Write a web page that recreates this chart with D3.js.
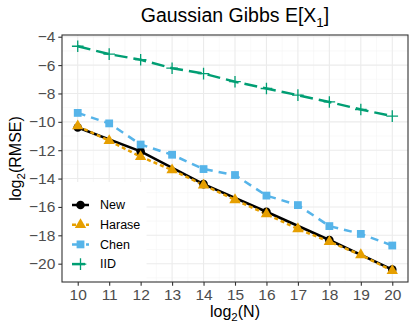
<!DOCTYPE html>
<html>
<head>
<meta charset="utf-8">
<script src="https://cdn.jsdelivr.net/npm/d3@7"></script>
<style>
  body { margin: 0; background: #fff; }
  svg text { font-family: "Liberation Sans", Arial, Helvetica, sans-serif; }
</style>
</head>
<body>
<div id="chart"></div>
<script>
// log2(N) values and log2(RMSE) per method
const xNew = [10, 12, 14, 16, 18, 20];
const yNew = [-10.4, -12.08, -14.39, -16.34, -18.33, -20.42];

const xAll = [10, 11, 12, 13, 14, 15, 16, 17, 18, 19, 20];
const yHarase = [-10.3, -11.33, -12.46, -13.4, -14.46, -15.5, -16.5, -17.55, -18.45, -19.38, -20.5];
const yChen = [-9.37, -10.11, -11.6, -12.32, -13.33, -13.75, -15.2, -15.87, -17.35, -17.9, -18.72];
const yIID = [-4.67, -5.23, -5.62, -6.22, -6.6, -7.17, -7.65, -8.12, -8.6, -9.13, -9.6];

const xTicks = [10, 11, 12, 13, 14, 15, 16, 17, 18, 19, 20];
const yTicks = [-20, -18, -16, -14, -12, -10, -8, -6, -4];

const series = [
  { name: "New", xs: xNew, ys: yNew, color: "#000000", dash: null, shape: "circle" },
  { name: "Harase", xs: xAll, ys: yHarase, color: "#E69F00", dash: "4,3", shape: "triangle" },
  { name: "Chen", xs: xAll, ys: yChen, color: "#56B4E9", dash: "8,6", shape: "square" },
  { name: "IID", xs: xAll, ys: yIID, color: "#009E73", dash: "13,6", shape: "plus" },
];

const W = 415, H = 332;
const panel = { left: 62, right: 408, top: 35, bottom: 282 };

const svg = d3.select("#chart").append("svg")
  .attr("width", W).attr("height", H);

const x = d3.scaleLinear().domain([9.5, 20.5]).range([panel.left, panel.right]);

// ggplot style 5% expansion of the data range
const allY = series.flatMap((s) => s.ys);
const yMin = d3.min(allY), yMax = d3.max(allY);
const pad = (yMax - yMin) * 0.05;
const y = d3.scaleLinear().domain([yMin - pad, yMax + pad]).range([panel.bottom, panel.top]);

// panel background + grid
const g = svg.append("g");
g.append("rect")
  .attr("x", panel.left).attr("y", panel.top)
  .attr("width", panel.right - panel.left).attr("height", panel.bottom - panel.top)
  .attr("fill", "#fff");

const xMinor = d3.range(9.5, 20.6, 1);
const yMinor = d3.range(-21, -3, 2);

g.selectAll("line.xminor").data(xMinor).join("line")
  .attr("x1", (d) => x(d)).attr("x2", (d) => x(d))
  .attr("y1", panel.top).attr("y2", panel.bottom)
  .attr("stroke", "#F5F5F5").attr("stroke-width", 0.6);
g.selectAll("line.yminor").data(yMinor.filter((d) => y(d) < panel.bottom && y(d) > panel.top)).join("line")
  .attr("x1", panel.left).attr("x2", panel.right)
  .attr("y1", (d) => y(d)).attr("y2", (d) => y(d))
  .attr("stroke", "#F5F5F5").attr("stroke-width", 0.6);
g.selectAll("line.xmajor").data(xTicks).join("line")
  .attr("x1", (d) => x(d)).attr("x2", (d) => x(d))
  .attr("y1", panel.top).attr("y2", panel.bottom)
  .attr("stroke", "#EBEBEB").attr("stroke-width", 1.1);
g.selectAll("line.ymajor").data(yTicks).join("line")
  .attr("x1", panel.left).attr("x2", panel.right)
  .attr("y1", (d) => y(d)).attr("y2", (d) => y(d))
  .attr("stroke", "#EBEBEB").attr("stroke-width", 1.1);

// lines
const line = d3.line().x((d) => x(d[0])).y((d) => y(d[1]));
const plot = svg.append("g");
series.forEach((s) => {
  plot.append("path")
    .datum(s.xs.map((v, i) => [v, s.ys[i]]))
    .attr("d", line)
    .attr("fill", "none")
    .attr("stroke", s.color)
    .attr("stroke-width", 2.5)
    .attr("stroke-dasharray", s.dash);
});

function drawShape(sel, shape, color, cx, cy) {
  if (shape === "circle") {
    sel.append("circle").attr("cx", cx).attr("cy", cy).attr("r", 4.3).attr("fill", color);
  } else if (shape === "triangle") {
    sel.append("path")
      .attr("d", d3.symbol(d3.symbolTriangle, 56)())
      .attr("transform", `translate(${cx},${cy})`)
      .attr("fill", color);
  } else if (shape === "square") {
    sel.append("rect").attr("x", cx - 3.9).attr("y", cy - 3.9)
      .attr("width", 7.8).attr("height", 7.8).attr("fill", color);
  } else {
    sel.append("path")
      .attr("d", `M${cx - 5.8},${cy}H${cx + 5.8}M${cx},${cy - 5.8}V${cy + 5.8}`)
      .attr("stroke", color).attr("stroke-width", 1.3).attr("fill", "none");
  }
}

series.forEach((s) => {
  const pg = plot.append("g");
  s.xs.forEach((v, i) => drawShape(pg, s.shape, s.color, x(v), y(s.ys[i])));
});

// legend inside the panel
const leg = svg.append("g");
leg.append("rect")
  .attr("x", panel.left + 0.5).attr("y", 182)
  .attr("width", 84).attr("height", panel.bottom - 182 - 0.5)
  .attr("fill", "#fff");
series.forEach((s, i) => {
  const cy = 205 + i * 19.7;
  leg.append("line")
    .attr("x1", 72).attr("x2", 89).attr("y1", cy).attr("y2", cy)
    .attr("stroke", s.color).attr("stroke-width", 2.5)
    .attr("stroke-dasharray", s.dash);
  drawShape(leg, s.shape, s.color, 80.5, cy);
  leg.append("text")
    .attr("x", 100).attr("y", cy).attr("dy", "0.35em")
    .attr("font-size", 12.5).attr("fill", "#000")
    .text(s.name);
});

// panel border
svg.append("rect")
  .attr("x", panel.left).attr("y", panel.top)
  .attr("width", panel.right - panel.left).attr("height", panel.bottom - panel.top)
  .attr("fill", "none").attr("stroke", "#333333").attr("stroke-width", 1.1);

// axes
const xAxis = svg.append("g")
  .attr("transform", `translate(0,${panel.bottom})`)
  .call(d3.axisBottom(x).tickValues(xTicks).tickSize(3.7).tickPadding(3).tickFormat(d3.format("d")));
const yAxis = svg.append("g")
  .attr("transform", `translate(${panel.left},0)`)
  .call(d3.axisLeft(y).tickValues(yTicks).tickSize(3.7).tickPadding(3).tickFormat(d3.format("d")));
[xAxis, yAxis].forEach((a) => {
  a.select(".domain").remove();
  a.selectAll(".tick line").attr("stroke", "#333333").attr("stroke-width", 1.1);
  a.selectAll(".tick text").attr("fill", "#4D4D4D").attr("font-size", 15.5)
    .attr("font-family", "Liberation Sans, Arial, sans-serif");
});

// title and axis labels
const cx = (panel.left + panel.right) / 2;
const title = svg.append("text")
  .attr("x", cx).attr("y", 22).attr("text-anchor", "middle")
  .attr("font-size", 19.5).attr("fill", "#000");
title.append("tspan").text("Gaussian Gibbs E[X");
title.append("tspan").attr("font-size", 13.5).attr("dy", 4.5).text("1");
title.append("tspan").attr("dy", -4.5).text("]");

const xl = svg.append("text")
  .attr("x", cx).attr("y", 317).attr("text-anchor", "middle")
  .attr("font-size", 16).attr("fill", "#000");
xl.append("tspan").text("log");
xl.append("tspan").attr("font-size", 11.5).attr("dy", 4).text("2");
xl.append("tspan").attr("dy", -4).text("(N)");

const yl = svg.append("text")
  .attr("transform", `translate(21,${(panel.top + panel.bottom) / 2}) rotate(-90)`)
  .attr("text-anchor", "middle")
  .attr("font-size", 16).attr("fill", "#000");
yl.append("tspan").text("log");
yl.append("tspan").attr("font-size", 11.5).attr("dy", 4).text("2");
yl.append("tspan").attr("dy", -4).text("(RMSE)");
</script>
</body>
</html>
